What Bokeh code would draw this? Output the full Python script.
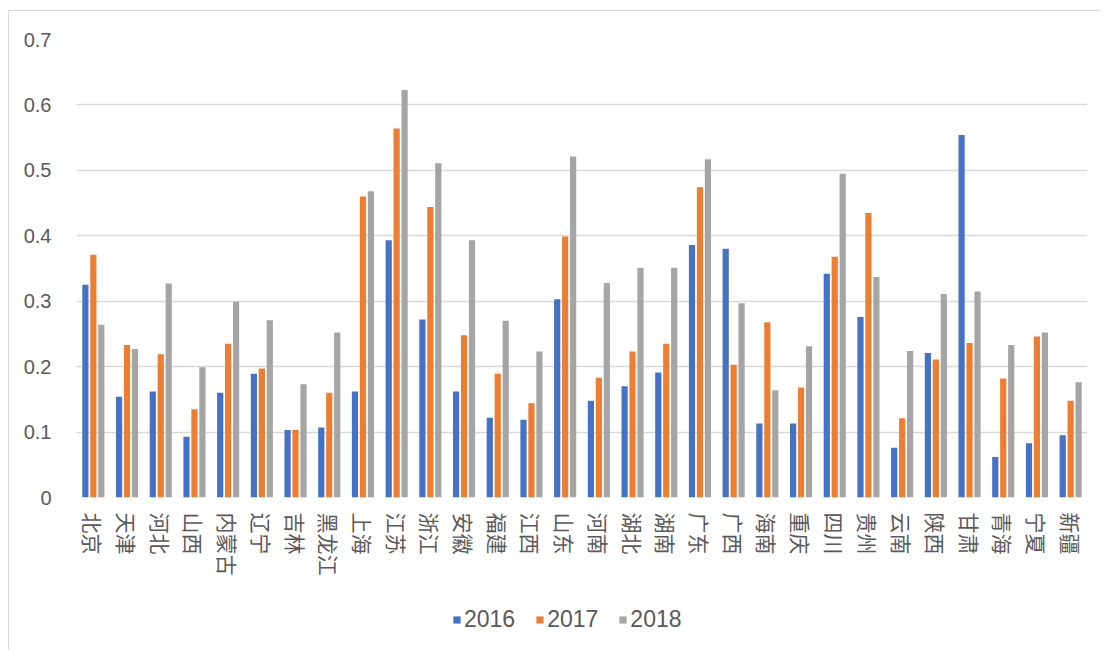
from bokeh.plotting import figure
from bokeh.layouts import column
from bokeh.models import (FactorRange, Range1d, Legend, LegendItem, FixedTicker,
                          NumeralTickFormatter, ColumnDataSource)
from bokeh.transform import dodge
from bokeh.embed import file_html
from bokeh.resources import INLINE

provinces = ["北京", "天津", "河北", "山西", "内蒙古", "辽宁", "吉林", "黑龙江", "上海", "江苏",
             "浙江", "安徽", "福建", "江西", "山东", "河南", "湖北", "湖南", "广东", "广西",
             "海南", "重庆", "四川", "贵州", "云南", "陕西", "甘肃", "青海", "宁夏", "新疆"]
v2016 = [0.325, 0.154, 0.162, 0.093, 0.160, 0.189, 0.103, 0.107, 0.162, 0.393,
         0.272, 0.162, 0.122, 0.119, 0.303, 0.148, 0.170, 0.191, 0.386, 0.380,
         0.113, 0.113, 0.342, 0.276, 0.076, 0.221, 0.554, 0.062, 0.083, 0.095]
v2017 = [0.371, 0.233, 0.219, 0.135, 0.235, 0.197, 0.103, 0.160, 0.460, 0.564,
         0.444, 0.248, 0.189, 0.144, 0.399, 0.183, 0.223, 0.235, 0.474, 0.203,
         0.268, 0.168, 0.368, 0.435, 0.121, 0.211, 0.236, 0.182, 0.246, 0.148]
v2018 = [0.264, 0.227, 0.327, 0.199, 0.299, 0.271, 0.173, 0.252, 0.468, 0.623,
         0.511, 0.393, 0.270, 0.223, 0.521, 0.328, 0.351, 0.351, 0.517, 0.297,
         0.164, 0.231, 0.495, 0.337, 0.224, 0.311, 0.315, 0.233, 0.252, 0.176]
years = ["2016", "2017", "2018"]
y_ticks = [0, 0.1, 0.2, 0.3, 0.4, 0.5, 0.6, 0.7]

colors = ["#4472C4", "#ED7D31", "#A5A5A5"]

source = ColumnDataSource(dict(prov=provinces, y2016=v2016, y2017=v2017, y2018=v2018))

# main chart
chart = figure(x_range=FactorRange(*provinces, range_padding=0),
               y_range=Range1d(0, 0.7),
               width=1091, height=589,
               output_backend="svg", toolbar_location=None,
               min_border_left=67, min_border_top=28, min_border_right=13, min_border_bottom=103)
chart.outline_line_color = None
chart.background_fill_color = "white"
chart.border_fill_color = "white"

offsets = [-0.236, 0.0, 0.236]
for yr, col, off in zip(years, colors, offsets):
    chart.vbar(x=dodge("prov", off, range=chart.x_range), top="y" + yr, width=0.184,
               source=source, fill_color=col, line_color=None)

chart.xgrid.grid_line_color = None
chart.ygrid.grid_line_color = "#d9d9d9"
chart.ygrid.grid_line_width = 1.5
chart.yaxis.ticker = FixedTicker(ticks=y_ticks)
chart.yaxis.formatter = NumeralTickFormatter(format="0.[0]")

for ax in (chart.xaxis, chart.yaxis):
    ax.axis_line_color = None
    ax.major_tick_line_color = None
    ax.minor_tick_line_color = None
    ax.major_label_text_color = "#595959"

chart.yaxis.major_label_text_font = "Liberation Sans"
chart.yaxis.major_label_text_font_size = "20px"
chart.yaxis.major_label_standoff = 19

chart.xaxis.major_label_orientation = "vertical"
chart.xaxis.major_label_text_font = "Noto Sans CJK SC"
chart.xaxis.major_label_text_font_size = "21px"
chart.xaxis.major_label_standoff = 9

# legend strip (same series, drawn off-range so only the legend shows)
leg_fig = figure(x_range=FactorRange(*provinces, range_padding=0),
                 y_range=Range1d(10, 11),
                 width=1091, height=50,
                 output_backend="svg", toolbar_location=None,
                 x_axis_type=None, y_axis_type=None, min_border=0)
leg_fig.outline_line_color = None
leg_fig.xgrid.visible = False
leg_fig.ygrid.visible = False
leg_renderers = []
for yr, col, off in zip(years, colors, offsets):
    r = leg_fig.vbar(x=dodge("prov", off, range=leg_fig.x_range), top="y" + yr, width=0.184,
                     source=source, fill_color=col, line_color=None)
    leg_renderers.append(r)

legend = Legend(items=[LegendItem(label=yr, renderers=[r]) for yr, r in zip(years, leg_renderers)],
                orientation="horizontal", location=(376, 17))
legend.label_text_font = "Liberation Sans"
legend.label_text_font_size = "23px"
legend.label_text_color = "#595959"
legend.glyph_width = 9
legend.glyph_height = 9
legend.label_standoff = 3
legend.spacing = 20
legend.padding = 4
legend.margin = 0
legend.border_line_color = None
legend.background_fill_alpha = 0
leg_fig.add_layout(legend, "center")

p = column(chart, leg_fig, spacing=0, margin=(10, 0, 0, 8),
           styles={"border-left": "1px solid #d9d9d9", "border-top": "1px solid #d9d9d9"})

open("out.html", "w").write(file_html(p, INLINE))
